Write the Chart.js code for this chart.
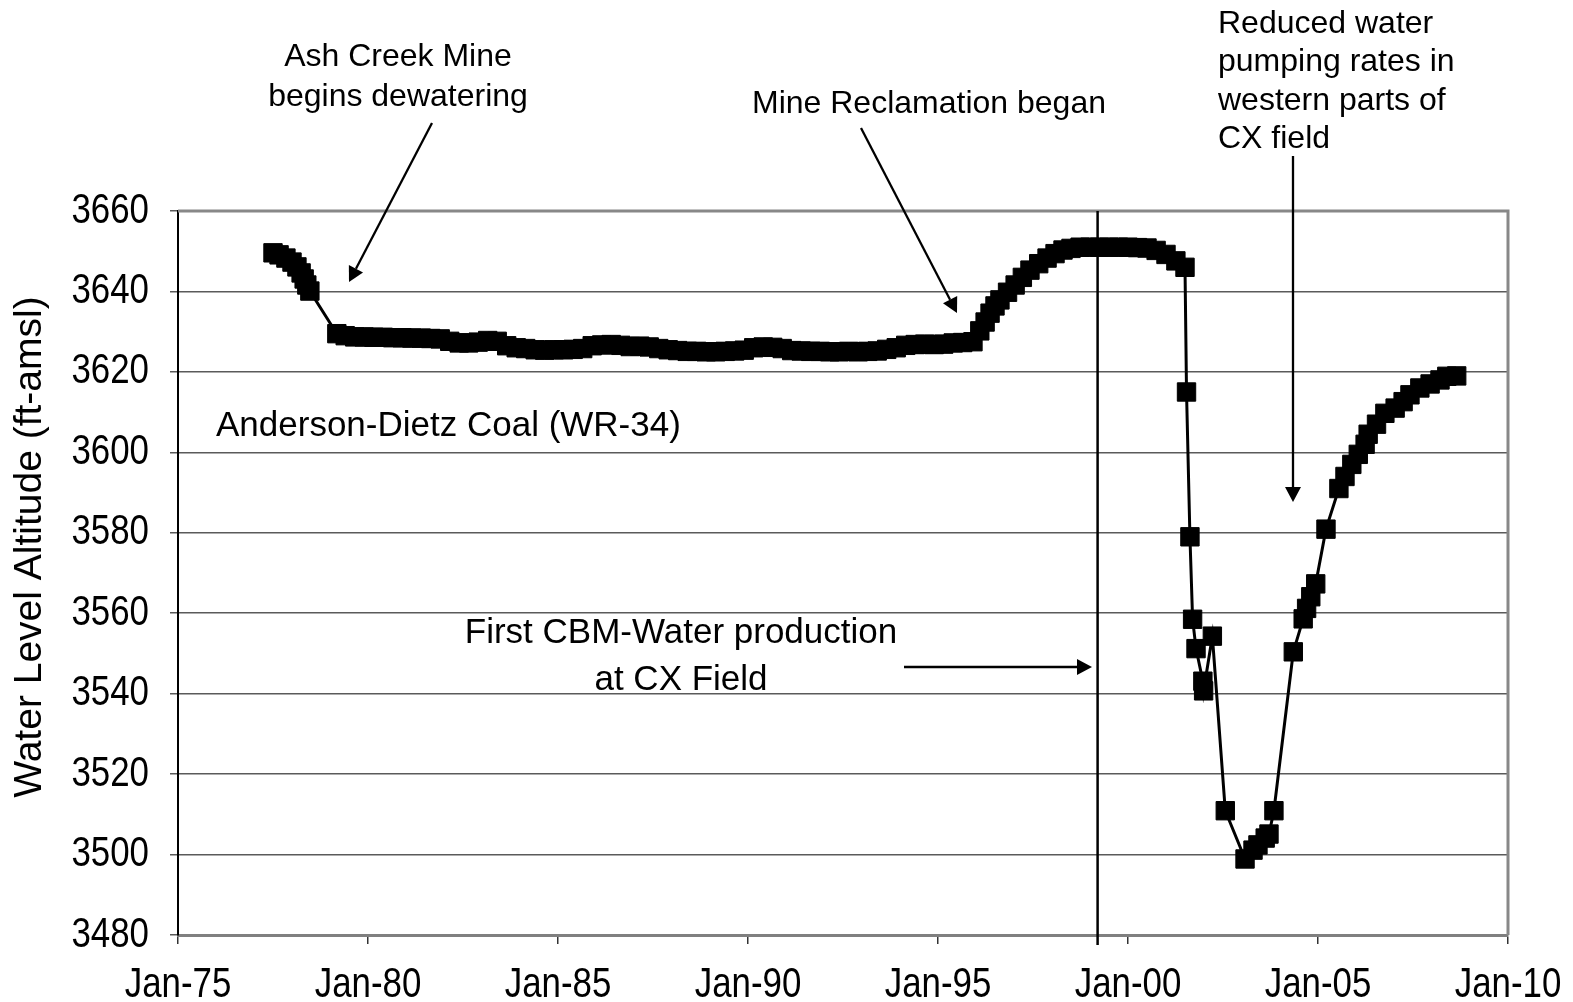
<!DOCTYPE html>
<html>
<head>
<meta charset="utf-8">
<title>Anderson-Dietz Coal (WR-34)</title>
<script src="https://cdn.jsdelivr.net/npm/chart.js@4/dist/chart.umd.min.js"></script>
<style>
  html, body { margin: 0; padding: 0; background: #fff; }
</style>
</head>
<body>
<canvas id="chart" width="1573" height="1002"></canvas>
<script>
// water level record for WR-34, dates as decimal years
const dates = [
  1977.50, 1977.66, 1977.84, 1978.00, 1978.13, 1978.24, 1978.32, 1978.39, 1978.47,
  1979.18, 1979.40, 1979.65, 1979.90, 1980.15, 1980.40, 1980.65, 1980.90,
  1981.15, 1981.40, 1981.65, 1981.90, 1982.15, 1982.40, 1982.65, 1982.90,
  1983.15, 1983.40, 1983.65, 1983.90, 1984.15, 1984.40, 1984.65, 1984.90,
  1985.15, 1985.40, 1985.65, 1985.90, 1986.15, 1986.40, 1986.65, 1986.90,
  1987.15, 1987.40, 1987.65, 1987.90, 1988.15, 1988.40, 1988.65, 1988.90,
  1989.15, 1989.40, 1989.65, 1989.90, 1990.15, 1990.40, 1990.65, 1990.90,
  1991.15, 1991.40, 1991.65, 1991.90, 1992.15, 1992.40, 1992.65, 1992.90,
  1993.15, 1993.40, 1993.65, 1993.90, 1994.15, 1994.40, 1994.65, 1994.90,
  1995.15, 1995.40, 1995.65, 1995.92,
  1996.10, 1996.24, 1996.37, 1996.50, 1996.63, 1996.83, 1997.03, 1997.22,
  1997.42, 1997.65, 1997.87, 1998.08, 1998.29, 1998.50, 1998.74,
  1999.00, 1999.25, 1999.50, 1999.75, 2000.00, 2000.25, 2000.50, 2000.74,
  2001.00, 2001.26, 2001.50,
  2001.54, 2001.63, 2001.70, 2001.79, 2001.97, 2001.99, 2002.22, 2002.56,
  2003.08, 2003.29, 2003.42, 2003.61, 2003.71, 2003.84,
  2004.35, 2004.61, 2004.70, 2004.81, 2004.94, 2005.21, 2005.55, 2005.71,
  2005.89, 2006.06, 2006.24, 2006.32, 2006.54, 2006.76, 2007.03, 2007.24,
  2007.42, 2007.68, 2007.95, 2008.21, 2008.39, 2008.65
];
const levels = [
  3649.6, 3649.1, 3648.3, 3647.3, 3646.1, 3644.6, 3643.1, 3641.6, 3640.1,
  3629.5, 3629.0, 3628.7, 3628.7, 3628.6, 3628.6, 3628.5, 3628.5,
  3628.4, 3628.4, 3628.3, 3628.2, 3627.6, 3627.2, 3627.2, 3627.4,
  3627.8, 3627.6, 3626.5, 3626.0, 3625.8, 3625.5, 3625.4, 3625.5,
  3625.5, 3625.6, 3625.8, 3626.5, 3626.7, 3626.8, 3626.6, 3626.3,
  3626.4, 3626.2, 3625.8, 3625.5, 3625.3, 3625.1, 3625.1, 3625.0,
  3625.0, 3625.1, 3625.2, 3625.4, 3626.0, 3626.2, 3626.1, 3625.8,
  3625.3, 3625.2, 3625.1, 3625.1, 3625.0, 3625.0, 3625.1, 3625.0,
  3625.1, 3625.2, 3625.6, 3626.0, 3626.6, 3626.8, 3626.9, 3626.8,
  3626.9, 3627.2, 3627.3, 3627.5,
  3630.2, 3632.4, 3634.6, 3636.4, 3637.9, 3639.8, 3641.6, 3643.5,
  3645.3, 3646.9, 3648.3, 3649.4, 3650.3, 3650.7, 3651.0,
  3651.0, 3651.0, 3651.0, 3651.0, 3651.0, 3650.9, 3650.8, 3650.2,
  3649.2, 3647.6, 3646.0,
  3615.0, 3579.0, 3558.5, 3551.2, 3543.1, 3540.7, 3554.3, 3510.9,
  3498.9, 3501.1, 3502.4, 3504.1, 3505.1, 3510.9,
  3550.4, 3558.6, 3561.2, 3564.1, 3567.3, 3580.9, 3591.0, 3594.0,
  3597.0, 3599.5, 3602.0, 3604.5, 3607.0, 3609.7, 3611.0, 3612.6,
  3614.3, 3616.0, 3617.0, 3618.0, 3618.9, 3619.0
];

const cbmStart = 1999.2;   // first CBM water production at CX field

const notes = [
  { lines: ['Ash Creek Mine', 'begins dewatering'], x: 398, y: 57, gap: 40, size: 32, align: 'center' },
  { lines: ['Mine Reclamation began'], x: 929, y: 104, gap: 0, size: 32, align: 'center' },
  { lines: ['Reduced water', 'pumping rates in', 'western parts of', 'CX field'], x: 1218, y: 24, gap: 38.5, size: 32, align: 'left' },
  { lines: ['Anderson-Dietz Coal (WR-34)'], x: 216, y: 426, gap: 0, size: 35, align: 'left' },
  { lines: ['First CBM-Water production', 'at CX Field'], x: 681, y: 633, gap: 47, size: 35, align: 'center' }
];

const arrows = [
  [432, 123, 349, 282],
  [861, 128, 957, 313],
  [1293, 156, 1293, 502],
  [904, 667, 1092, 667]
];

function drawArrow(ctx, x1, y1, x2, y2) {
  const a = Math.atan2(y2 - y1, x2 - x1);
  const head = 15, half = 8;
  const bx = x2 - head * Math.cos(a), by = y2 - head * Math.sin(a);
  ctx.beginPath();
  ctx.moveTo(x1, y1);
  ctx.lineTo(bx, by);
  ctx.stroke();
  ctx.beginPath();
  ctx.moveTo(x2, y2);
  ctx.lineTo(bx + half * Math.sin(a), by - half * Math.cos(a));
  ctx.lineTo(bx - half * Math.sin(a), by + half * Math.cos(a));
  ctx.closePath();
  ctx.fill();
}

// tick labels in the reference use a condensed face, squeeze regular Arial
function narrowText(ctx, text, x, y, align) {
  ctx.save();
  ctx.translate(x, y);
  ctx.scale(0.83, 1);
  ctx.textAlign = align;
  ctx.fillText(text, 0, 0);
  ctx.restore();
}

const decor = {
  id: 'decor',
  beforeDraw(chart) {
    const ctx = chart.ctx;
    ctx.save();
    ctx.fillStyle = '#fff';
    ctx.fillRect(0, 0, chart.width, chart.height);
    ctx.restore();
  },
  afterDraw(chart) {
    const ctx = chart.ctx;
    const a = chart.chartArea;
    const xs = chart.scales.x, ys = chart.scales.y;
    ctx.save();

    // top and right frame
    ctx.strokeStyle = '#888';
    ctx.lineWidth = 3;
    ctx.beginPath();
    ctx.moveTo(a.left, a.top);
    ctx.lineTo(a.right, a.top);
    ctx.lineTo(a.right, a.bottom);
    ctx.stroke();

    // CBM start line
    const vx = xs.getPixelForValue(cbmStart);
    ctx.strokeStyle = '#000';
    ctx.lineWidth = 2.5;
    ctx.beginPath();
    ctx.moveTo(vx, a.top);
    ctx.lineTo(vx, a.bottom + 10);
    ctx.stroke();

    // arrows
    ctx.fillStyle = '#000';
    ctx.lineWidth = 2.3;
    arrows.forEach(r => drawArrow(ctx, r[0], r[1], r[2], r[3]));

    // tick labels
    ctx.textBaseline = 'middle';
    ctx.font = '42px "Liberation Sans", Arial, sans-serif';
    ys.ticks.forEach(t => narrowText(ctx, String(t.value), a.left - 29, ys.getPixelForValue(t.value), 'right'));
    xs.ticks.forEach(t => narrowText(ctx, 'Jan-' + String(t.value % 100).padStart(2, '0'),
      xs.getPixelForValue(t.value), a.bottom + 50, 'center'));

    // text notes
    notes.forEach(n => {
      ctx.font = n.size + 'px "Liberation Sans", Arial, sans-serif';
      ctx.textAlign = n.align;
      n.lines.forEach((t, i) => ctx.fillText(t, n.x, n.y + i * n.gap));
    });

    // y axis title
    ctx.translate(30, 547);
    ctx.rotate(-Math.PI / 2);
    ctx.textAlign = 'center';
    ctx.font = '39px "Liberation Sans", Arial, sans-serif';
    ctx.fillText('Water Level Altitude (ft-amsl)', 0, 0);
    ctx.restore();
  }
};

new Chart(document.getElementById('chart'), {
  type: 'line',
  data: {
    datasets: [{
      data: dates.map((d, i) => ({ x: d, y: levels[i] })),
      borderColor: '#000',
      borderWidth: 3,
      backgroundColor: '#000',
      pointStyle: 'rect',
      pointRadius: 13,
      pointBorderWidth: 1,
      pointBackgroundColor: '#000',
      pointBorderColor: '#000',
      tension: 0
    }]
  },
  options: {
    responsive: false,
    animation: false,
    devicePixelRatio: 1,
    layout: { padding: { top: 211, right: 65, left: 0, bottom: 0 } },
    plugins: { legend: { display: false }, tooltip: { enabled: false } },
    scales: {
      x: {
        type: 'linear',
        min: 1975,
        max: 2010,
        ticks: { stepSize: 5, display: false },
        grid: { drawOnChartArea: false, drawTicks: true, tickLength: 9, color: '#333', lineWidth: 1.5 },
        border: { display: true, color: '#808080', width: 3 },
        afterFit(s) { s.height = 67; }
      },
      y: {
        min: 3480,
        max: 3660,
        ticks: { stepSize: 20, display: false },
        grid: { color: '#5a5a5a', lineWidth: 1.5, tickLength: 8, drawTicks: true },
        border: { display: true, color: '#000', width: 2 },
        afterFit(s) { s.width = 178; }
      }
    }
  },
  plugins: [decor]
});
</script>
</body>
</html>
